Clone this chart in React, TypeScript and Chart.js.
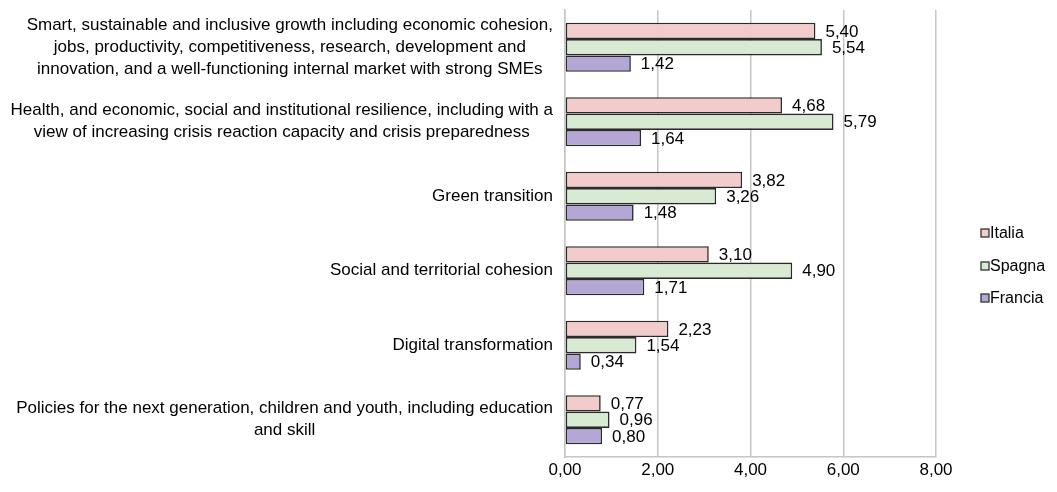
import React, { useEffect, useRef } from "react";
import { Chart, registerables } from "chart.js";

Chart.register(...registerables);

const categories: string[][] = [
  [
    "Smart, sustainable and inclusive growth including economic cohesion,",
    "jobs, productivity, competitiveness, research, development and",
    "innovation, and a well-functioning internal market with strong SMEs",
  ],
  [
    "Health, and economic, social and institutional resilience, including with a",
    "view of increasing crisis reaction capacity and crisis preparedness",
  ],
  ["Green transition"],
  ["Social and territorial cohesion"],
  ["Digital transformation"],
  [
    "Policies for the next generation, children and youth, including education",
    "and skill",
  ],
];

const seriesNames = ["Italia", "Spagna", "Francia"];
const italia = [5.4, 4.68, 3.82, 3.1, 2.23, 0.77];
const spagna = [5.54, 5.79, 3.26, 4.9, 1.54, 0.96];
const francia = [1.42, 1.64, 1.48, 1.71, 0.34, 0.8];
const xTicks = [0, 2, 4, 6, 8];

const colors = ["#F2CBCB", "#D9EAD3", "#B4A7D6"];
const FONT = '"Liberation Sans", Arial, sans-serif';
const FS = 17;

const fmt = (v: number) => v.toFixed(2).replace(".", ",");

const customPlugin = {
  id: "custom",
  afterDatasetsDraw(chart: any) {
    const ctx = chart.ctx;
    ctx.save();
    ctx.font = `${FS}px ${FONT}`;
    ctx.fillStyle = "#000";
    ctx.textBaseline = "middle";
    ctx.textAlign = "left";
    chart.data.datasets.forEach((ds: any, di: number) => {
      const meta = chart.getDatasetMeta(di);
      meta.data.forEach((bar: any, i: number) => {
        ctx.fillText(fmt(ds.data[i]), bar.x + 10, bar.y + 1);
      });
    });
    // category labels
    const yScale = chart.scales.y;
    const lh = 22;
    categories.forEach((lines, i) => {
      const cy = yScale.getPixelForValue(i);
      const maxW = Math.max(...lines.map((l) => ctx.measureText(l).width));
      const cx = 553 - maxW / 2;
      const startY = cy - ((lines.length - 1) * lh) / 2;
      ctx.textAlign = "center";
      lines.forEach((l, k) => ctx.fillText(l, cx, startY + k * lh));
    });
    // legend
    ctx.font = `16px ${FONT}`;
    const ly = [233, 266, 298];
    seriesNames.forEach((n, i) => {
      ctx.fillStyle = colors[i];
      ctx.fillRect(981, ly[i] - 4, 8, 8);
      ctx.strokeStyle = "#333";
      ctx.lineWidth = 1.3;
      ctx.strokeRect(981, ly[i] - 4, 8, 8);
      ctx.fillStyle = "#000";
      ctx.textAlign = "left";
      ctx.fillText(n, 990, ly[i] + 1);
    });
    ctx.restore();
  },
};

export default function App() {
  const ref = useRef<HTMLCanvasElement>(null);
  useEffect(() => {
    if (!ref.current) return;
    const chart = new Chart(ref.current, {
      type: "bar",
      data: {
        labels: categories.map((c) => c.join(" ")),
        datasets: [italia, spagna, francia].map((d, i) => ({
          label: seriesNames[i],
          data: d,
          backgroundColor: colors[i],
          borderColor: "#2b2b2b",
          borderWidth: 1.6,
          borderSkipped: false,
          categoryPercentage: 0.66,
          barPercentage: 1.0,
        })),
      },
      options: {
        indexAxis: "y",
        responsive: false,
        animation: false,
        layout: { padding: { left: 565, right: 121, top: 10, bottom: 0 } },
        plugins: { legend: { display: false }, tooltip: { enabled: false } },
        scales: {
          x: {
            min: 0,
            max: 8,
            afterBuildTicks: (s: any) => {
              s.ticks = xTicks.map((v) => ({ value: v }));
            },
            afterFit: (s: any) => {
              s.height = 35;
            },
            grid: { color: "#c6c6c6", lineWidth: 1.5, drawTicks: false },
            border: { color: "#c6c6c6", width: 1.5 },
            ticks: {
              padding: 3,
              color: "#000",
              font: { family: FONT, size: FS },
              callback: (v: any) => fmt(Number(v)),
            },
          },
          y: {
            grid: { display: false },
            border: { color: "#c6c6c6", width: 1.5 },
            ticks: { display: false },
            afterFit: (s: any) => {
              s.width = 0;
            },
          },
        },
      },
      plugins: [customPlugin],
    } as any);
    return () => chart.destroy();
  }, []);
  return (
    <div style={{ position: "fixed", left: 0, top: 0, width: 1057, height: 492, background: "#fff" }}>
      <canvas ref={ref} width={1057} height={492} style={{ width: 1057, height: 492 }} />
    </div>
  );
}
